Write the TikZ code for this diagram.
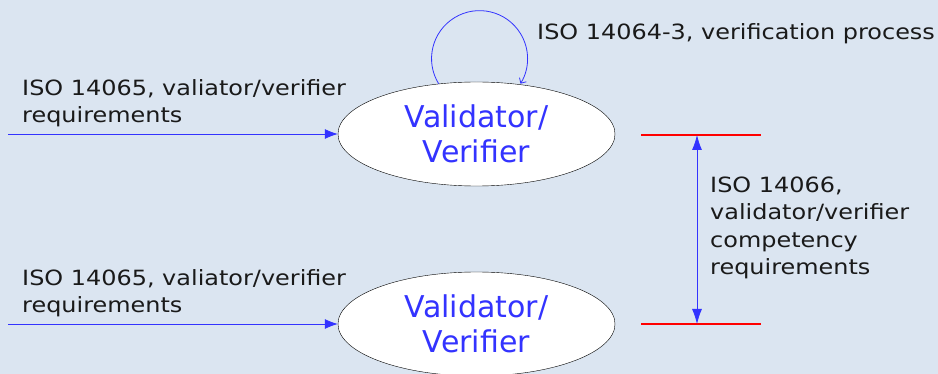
\documentclass[tikz,border=0pt]{standalone}
\usepackage{fontspec}
\setmainfont{DejaVu Sans}
\newfontfamily\notefont{DejaVu Sans}[FakeStretch=1.14]
\usepackage{tikz}
\usetikzlibrary{shapes.geometric, arrows.meta, positioning}
\definecolor{panel}{RGB}{219,229,241}
\definecolor{flowblue}{RGB}{51,51,255}
\definecolor{limitred}{RGB}{255,0,0}
\definecolor{inktext}{RGB}{26,26,26}
\tikzset{
    party/.style={ellipse, draw=black, fill=white, minimum width=277pt, minimum height=104pt, inner sep=0pt, text=flowblue, align=center, font=\fontsize{30}{35}\selectfont},
    note/.style={anchor=base west, align=left, inner sep=0pt, text=inktext, font=\notefont\fontsize{21}{27.5}\selectfont},
    flow/.style={-{Latex[length=13pt, width=10pt]}, flowblue, thick},
    selfcheck/.style={-{Straight Barb[length=4pt, width=8pt]}, flowblue, thick},
    span/.style={{Latex[length=15pt, width=10pt]}-{Latex[length=15pt, width=10pt]}, flowblue, thick},
    limit/.style={limitred, line width=1.6pt}
}
\begin{document}
\begin{tikzpicture}[x=1pt, y=1pt]
    % Background
    \fill[panel] (0,0) rectangle (938,-374);
    \useasboundingbox (0,0) rectangle (938,-374);
    \clip (0,0) rectangle (938,-374);

    % Validators
    \node[party] (vtop) at (476.5,-134) {Validator/\\Verifier};
    \node[party] (vbot) at (476.5,-324) {Validator/\\Verifier};

    % Requirement inputs
    \coordinate (intop) at (8,-134);
    \coordinate (inbot) at (8,-324);
    \draw[flow] (intop) -- (vtop.west);
    \draw[flow] (inbot) -- (vbot.west);
    \node[note] (reqtop) at (22,-123) {ISO 14065, valiator/verifier\\requirements};
    \node[note] (reqbot) at (22,-313) {ISO 14065, valiator/verifier\\requirements};

    % Verification process loop
    \draw[selfcheck] (vtop.127.2) arc[start angle=211.6, end angle=-31.4, radius=48];
    \node[note] (process) at (537,-40) {ISO 14064-3, verification process};

    % Competency span
    \coordinate (limtopL) at (641,-135);
    \coordinate (limtopR) at (761,-135);
    \coordinate (limbotL) at (641,-324);
    \coordinate (limbotR) at (761,-324);
    \draw[limit] (limtopL) -- (limtopR);
    \draw[limit] (limbotL) -- (limbotR);
    \coordinate (spantop) at (697,-135);
    \coordinate (spanbot) at (697,-324);
    \draw[span] (spantop) -- (spanbot);
    \node[note] (competency) at (710,-275) {ISO 14066,\\validator/verifier\\competency\\requirements};
\end{tikzpicture}
\end{document}
